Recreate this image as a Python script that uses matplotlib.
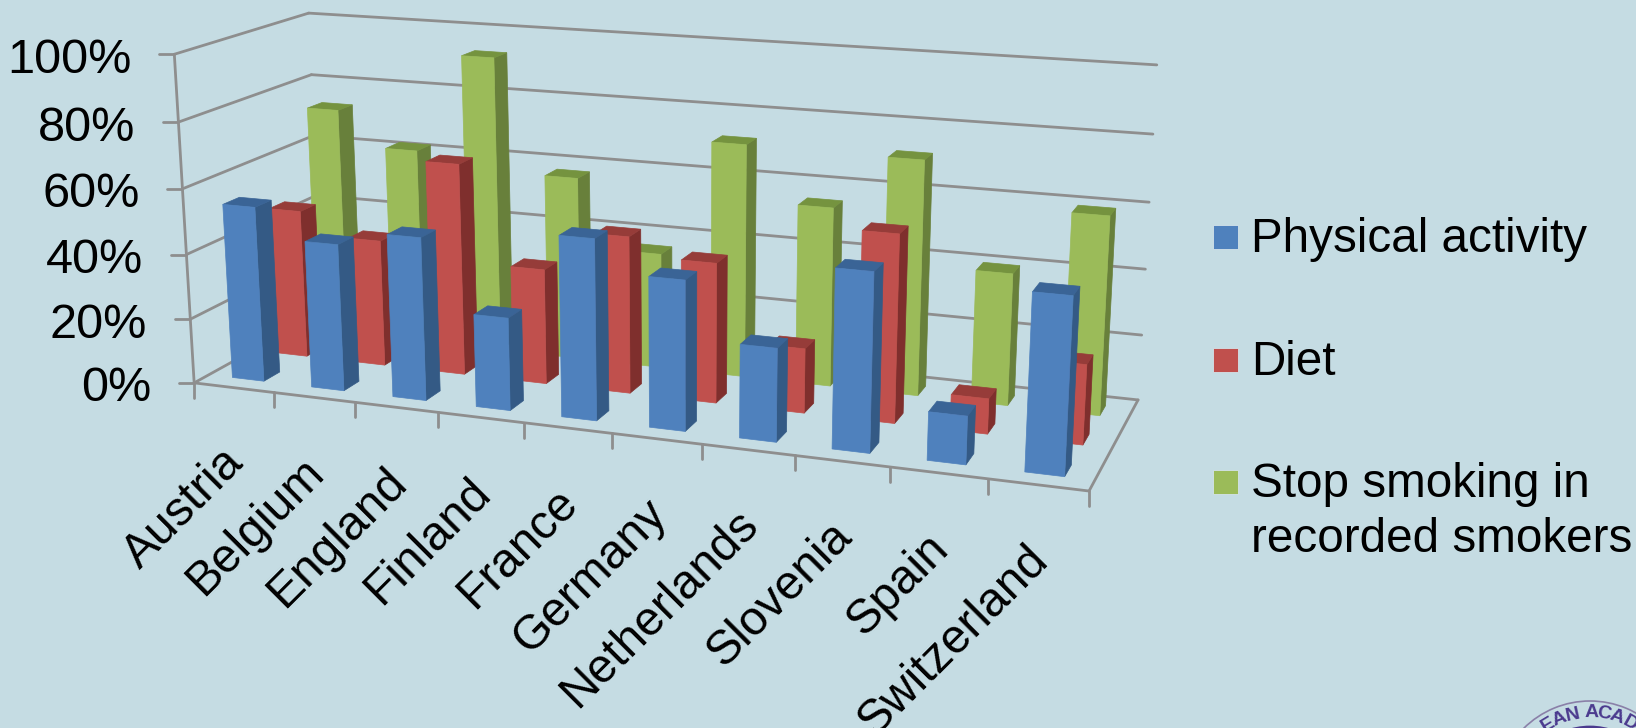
import numpy as np
import matplotlib
matplotlib.use('Agg')
import matplotlib.pyplot as plt
from matplotlib.patches import Rectangle, Arc

plt.rcParams['font.family'] = ['Liberation Sans', 'DejaVu Sans']

countries = ['Austria', 'Belgium', 'England', 'Finland', 'France', 'Germany',
             'Netherlands', 'Slovenia', 'Spain', 'Switzerland']
physical_activity = [54, 45, 49.5, 28, 54, 44.5, 27.5, 52, 14, 50.5]
diet = [46.5, 39.5, 65.5, 35.5, 48, 42.5, 19.5, 56, 10.5, 23.5]
stop_smoking = [73, 62, 93, 57.5, 36, 72, 55, 71.5, 40, 59.5]
y_ticks = [0, 20, 40, 60, 80, 100]
legend_labels = ['Physical activity', 'Diet', 'Stop smoking in\nrecorded smokers']

BG = '#C5DCE3'
GRID = '#8E8E8E'
# front, side, top shades per series, back row drawn first
rows = [(stop_smoking, 5/6, ('#9BBB59', '#68803B', '#75933F')),
        (diet, 3/6, ('#C0504D', '#7F2F2D', '#963C39')),
        (physical_activity, 1/6, ('#4F81BD', '#345A85', '#3A6496'))]
BAR_W = 0.40
BAR_D = 0.12

# box corners (category, depth, percent) -> figure pixels, used to fit the camera
anchors = [((0, 0, 0), (193, 383)), ((10, 0, 0), (1089, 491)),
           ((10, 1, 0), (1138, 400)), ((0, 1, 0), (323, 312)),
           ((0, 0, 100), (175, 54)), ((10, 1, 100), (1157, 65)),
           ((0, 1, 100), (308, 13)), ((0, 0, 60), (183, 189)),
           ((10, 1, 60), (1149, 202)), ((0, 1, 80), (311, 75))]


def fit_camera(pairs):
    A = []
    for (x, d, z), (u, v) in pairs:
        A.append([x, d, z, 1, 0, 0, 0, 0, -u*x, -u*d, -u*z, -u])
        A.append([0, 0, 0, 0, x, d, z, 1, -v*x, -v*d, -v*z, -v])
    return np.linalg.svd(np.array(A, float))[2][-1].reshape(3, 4)


P = fit_camera(anchors)


def proj(x, d, z):
    u, v, w = P @ np.array([x, d, z, 1.0])
    return u/w, v/w


def face(*corners):
    return [proj(*c) for c in corners]


fig = plt.figure(figsize=(16.36, 7.28), dpi=100, facecolor=BG)
ax = fig.add_axes([0, 0, 1, 1])
ax.set_xlim(0, 1636)
ax.set_ylim(728, 0)
ax.axis('off')


def line(p0, p1, lw=2.0):
    ax.plot([p0[0], p1[0]], [p0[1], p1[1]], color=GRID, lw=lw, solid_capstyle='round', zorder=1)


# walls and floor
for t in y_ticks:
    a, b, c = proj(0, 0, t), proj(0, 1, t), proj(10, 1, t)
    line(a, b)
    line(b, c)
    line((a[0]-15, a[1]), a)
    ax.text(a[0]-43, a[1]+6, f'{t}%', ha='right', va='center', fontsize=35, color='black', zorder=50)
line(proj(0, 0, 0), proj(0, 0, 100))
line(proj(0, 0, 0), proj(10, 0, 0))
line(proj(10, 0, 0), proj(10, 1, 0))
for i in range(len(countries)+1):
    p = proj(i, 0, 0)
    line(p, (p[0], p[1]+15))

# bars, back row to front row, left to right
zo = 2
for values, d, (c_front, c_side, c_top) in rows:
    for i, val in enumerate(values):
        x0, x1 = i+0.5-BAR_W/2, i+0.5+BAR_W/2
        d0, d1 = d-BAR_D/2, d+BAR_D/2
        side = face((x1, d0, 0), (x1, d1, 0), (x1, d1, val), (x1, d0, val))
        top = face((x0, d0, val), (x1, d0, val), (x1, d1, val), (x0, d1, val))
        front = face((x0, d0, 0), (x1, d0, 0), (x1, d0, val), (x0, d0, val))
        for pts, col in ((side, c_side), (top, c_top), (front, c_front)):
            ax.fill(*zip(*pts), facecolor=col, edgecolor=col, lw=0.5, zorder=zo)
        zo += 1

# rotated category labels
for i, name in enumerate(countries):
    cx, cy = proj(i+0.5, 0, 0)
    ax.text(cx-13, cy+52, name, rotation=45, rotation_mode='anchor', ha='right', va='top',
            fontsize=34.5, color='black', zorder=50)

# legend
swatches = ['#4F81BD', '#C0504D', '#9BBB59']
tops = [225, 348, 470]
for col, top, lab in zip(swatches, tops, legend_labels):
    ax.add_patch(Rectangle((1213, top), 25, 24, facecolor=col, edgecolor='#D5E3EA', lw=0.6, zorder=5))
    for k, part in enumerate(lab.split('\n')):
        ax.text(1251, top+27+55*k, part, ha='left', va='baseline', fontsize=34.3, color='black', zorder=5)

# academy seal running off the corner
seal_x, seal_y, seal_r = 1590, 795, 94
PURPLE = '#4B3A8E'
ax.add_patch(Arc((seal_x, seal_y), 2*seal_r, 2*seal_r, color='#8A80A8', lw=1.2))
ax.add_patch(Arc((seal_x, seal_y), 136, 136, color=PURPLE, lw=2.0))
seal_letters = 'EANACAD'
seal_angles = [-31, -22, -12, 1, 10, 19, 29]
for ch, ang in zip(seal_letters, seal_angles):
    tx = seal_x+82*np.sin(np.radians(ang))
    ty = seal_y-82*np.cos(np.radians(ang))
    ax.text(tx, ty, ch, rotation=-ang, rotation_mode='anchor', ha='center', va='center',
            fontsize=14, fontweight='bold', color=PURPLE, clip_on=True)

fig.savefig('out.png', dpi=100, facecolor=BG)
